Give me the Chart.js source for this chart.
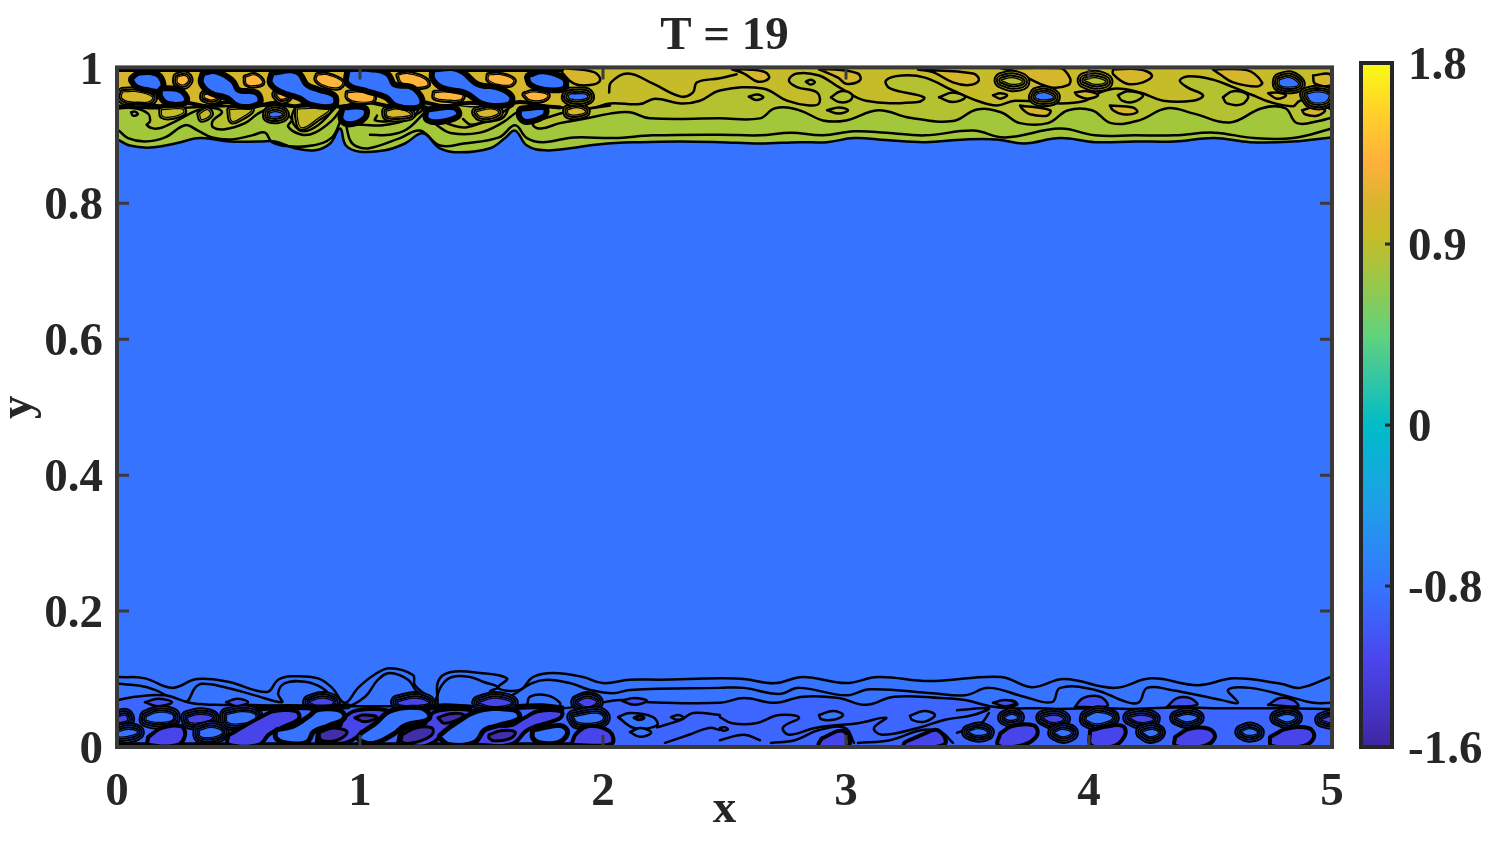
<!DOCTYPE html>
<html>
<head>
<meta charset="utf-8">
<title>T = 19</title>
<script src="https://cdn.jsdelivr.net/npm/chart.js@4"></script>
<style>
  html, body { margin: 0; background: #fff; }
  #wrap { position: relative; width: 1495px; height: 841px; overflow: hidden; }
  #field { position: absolute; left: 0; top: 0; }
  #cbar { position: absolute; left: 1340px; top: 0; }
</style>
</head>
<body>
<div id="wrap">
  <canvas id="field" width="1495" height="841"></canvas>
  <canvas id="cbar" width="155" height="841"></canvas>
</div>
<script>
// ticks
const titleText = 'T = 19';
const xTickValues = [0, 1, 2, 3, 4, 5];
const yTickValues = [0, 0.2, 0.4, 0.6, 0.8, 1];
const cbarTicks = [-1.6, -0.8, 0, 0.9, 1.8];

// colormap
const cbarStopValues = [-1.6, -1.4, -1.15, -0.8, -0.4, 0, 0.2, 0.45, 0.7, 0.95, 1.1, 1.3, 1.55, 1.8];
const cbarStopColors = ['#3F26A0', '#4535C8', '#4A47EE', '#3575FF', '#1F9FE8', '#00BCC8', '#2EC4A8', '#62D27C',
  '#97C84A', '#C8BC28', '#D8B42E', '#FFB03C', '#FFD02A', '#F9FB14'];

// contour lines, x,y pairs in axis units, top of the channel
const topOuter = [0,.894,.053,.885,.136,.882,.239,.888,.342,.896,.465,.891,.588,.891,.650,.891,.733,.881,.815,.878,.877,.888,.918,.910,.942,.885,1.0,.876,1.103,.878,1.185,.888,1.259,.903,1.329,.881,1.412,.875,1.535,.881,1.597,.896,1.638,.907,1.687,.885,1.761,.878,1.864,.881,1.988,.887,2.152,.890,2.317,.891,2.481,.890,2.646,.888,2.807,.890,2.922,.890,3.033,.896,3.165,.893,3.325,.890,3.490,.894,3.621,.894,3.733,.888,3.881,.896,4.025,.890,4.189,.891,4.350,.891,4.514,.896,4.663,.890,4.840,.891,5,.897];
const topSecond = [.008,.907,.045,.896,.115,.891,.198,.897,.280,.915,.333,.907,.391,.897,.473,.894,.556,.900,.609,.904,.638,.890,.704,.884,.802,.885,.885,.897,.930,.925,.959,.893,.984,.884,1.037,.881,1.165,.896,1.247,.907,1.329,.885,1.428,.888,1.572,.897,1.638,.915,1.687,.896,1.753,.890,1.881,.897,2.045,.896,2.206,.900,2.481,.901,2.646,.900,2.774,.904,2.905,.900,3.033,.906,3.165,.904,3.325,.900,3.523,.907,3.654,.897,3.881,.910,4.025,.900,4.189,.900,4.350,.900,4.514,.904,4.679,.896,4.840,.896,5,.910];
const topThird = [0,.940,.074,.940,.128,.932,.136,.921,.123,.915,.165,.910,.226,.918,.300,.932,.342,.938,.403,.940,.432,.934,.395,.922,.395,.912,.444,.909,.527,.918,.580,.932,.621,.938,.671,.934,.720,.924,.704,.913,.761,.901,.815,.904,.885,.922,.938,.943,.959,.929,.947,.919,1.041,.915,1.095,.915,1.177,.921,1.247,.934,1.272,.943,1.280,.929,1.317,.915,1.379,.903,1.494,.904,1.588,.919,1.646,.934,1.687,.937,1.724,.925,1.712,.915,1.745,.910,1.823,.918,1.918,.924,2.029,.932,2.111,.934,2.193,.925,2.481,.925,2.646,.925,2.708,.940,2.807,.937,2.905,.922,3.0,.922,3.132,.937,3.263,.926,3.440,.921,3.539,.938,3.638,.934,3.716,.918,3.831,.918,3.914,.937,4.012,.937,4.091,.918,4.206,.922,4.321,.940,4.432,.932,4.580,.919,4.712,.940,4.807,.940,4.856,.918,4.955,.922,5,.926];
const topFourth = [0,.944,.136,.940,.300,.941,.506,.944,.609,.944,.753,.943,.938,.951,1.165,.944,1.288,.951,1.453,.943,1.638,.947,1.761,.943,1.947,.940,2.029,.947,2.152,.946,2.214,.954,2.321,.947,2.399,.951,2.481,.966,2.658,.969,2.757,.951,2.848,.944,2.889,.947,2.881,.963,2.798,.971,2.765,.981,2.798,.991,2.889,.988,2.971,.971,3.082,.951,3.296,.949,3.321,.956,3.181,.969,3.165,.981,3.230,.988,3.325,.985,3.440,.966,3.539,.951,3.621,.944,3.695,.951,3.881,.947,3.984,.951,4.045,.963,4.115,.969,4.210,.963,4.305,.951,4.428,.951,4.469,.959,4.403,.971,4.374,.981,4.416,.987,4.510,.982,4.593,.971,4.675,.959,4.745,.949,4.840,.943,4.868,.951,4.942,.951,5,.937];
const topGoldRow = [0,.946,.9,.946,1.8,.946,1.84,.965,1.82,.999,.9,.999,0,.999];
const topEdge = [0,.997,.5,.997,1,.997,1.5,.997,1.83,.997];
const topBlackRow = [.008,.941,.082,.947,.177,.943,.280,.948,.374,.943,.457,.949,.568,.943,.650,.948,.732,.943,.815,.949,.918,.942,1.021,.949,1.132,.943,1.247,.949,1.350,.943,1.453,.948,1.576,.943,1.658,.949,1.761,.943,1.823,.941];
const topInnerLines = [
  [.737,.943,.720,.929,.728,.916,.765,.906,.827,.915,.897,.940],
  [1.041,.901,1.123,.901,1.193,.909,1.267,.934],
  [1.309,.926,1.379,.915,1.440,.912,1.547,.926,1.630,.944],
  [1.424,.924,1.453,.916,1.506,.919,1.588,.926,1.617,.946],
  [1.070,.929,1.062,.922,1.123,.921,1.218,.926,1.247,.944],
  [1.761,.925,1.844,.934,1.947,.940,2.029,.944],
  [2.025,.963,2.033,.978,2.103,.991,2.206,.976,2.321,.957,2.370,.963,2.387,.978,2.481,.984,2.55,.990]
];
const topGoldLobes = [
  [4.099,.997,4.210,.997,4.259,.988,4.222,.978,4.156,.976,4.099,.990],
  [3.634,.999,3.881,.999,3.922,.984,3.914,.974,3.840,.971,3.745,.985,3.704,.993],
  [4.510,.997,4.650,.996,4.712,.978,4.691,.972,4.593,.978,4.539,.990],
  [2.531,.997,2.597,.997,2.667,.993,2.683,.984,2.638,.979,2.580,.991],
  [2.889,.997,2.955,.997,3.049,.991,3.058,.981,3.0,.976,2.967,.985],
  [3.296,.997,3.523,.991,3.547,.981,3.506,.974,3.440,.978,3.358,.993],
  [1.831,.999,1.963,.993,1.988,.981,1.947,.974,1.881,.976,1.831,.993],
  [4.922,.988,4.992,.990,4.996,.974,4.930,.976],
  [4.877,.937,4.922,.941,4.971,.937,4.938,.929,4.889,.931],
  [3.716,.944,3.840,.937,3.827,.929,3.757,.931,3.728,.938],
  [4.086,.944,4.181,.941,4.198,.934,4.140,.931,4.099,.937],
  [4.737,.962,4.774,.963,4.811,.959,4.774,.954],
  [3.942,.963,3.992,.965,4.037,.959,3.992,.954,3.951,.959],
  [3.605,.959,3.634,.962,3.663,.959,3.634,.954]
];
const topPaleOvals = [
  [2.938,.956,2.979,.965,3.025,.960,3.016,.951,2.971,.949],
  [3.383,.956,3.440,.963,3.490,.956,3.440,.949],
  [4.119,.959,4.160,.965,4.222,.959,4.181,.949,4.136,.951],
  [4.551,.956,4.593,.965,4.654,.959,4.630,.946,4.568,.947],
  [2.922,.937,2.971,.941,3.008,.937,2.971,.932],
  [2.60,.957,2.635,.960,2.66,.956,2.63,.952],
  [2.835,.979,2.856,.982,2.872,.978,2.852,.975],
  [.058,.934,.074,.935,.086,.931,.066,.929]
];
const topOliveBlobs = [
  [.745,.938,.868,.938,.827,.926,.761,.912,.745,.926],
  [.185,.937,.267,.938,.272,.934,.226,.928,.189,.929],
  [.465,.937,.551,.938,.498,.924,.473,.922],
  [.342,.931,.370,.937,.383,.931,.350,.924]
];
const topGoldBlobs = [
  [1.111,.935,1.156,.938,1.206,.931,1.165,.928,1.115,.929],
  [1.481,.934,1.535,.938,1.568,.934,1.535,.928,1.494,.929],
  [1.856,.937,1.893,.940,1.926,.935,1.893,.931,1.860,.932],
  [.025,.963,.086,.963,.144,.956,.128,.950,.045,.951,.021,.956]
];
const topOrangeSmall = [
  [.251,.985,.280,.987,.292,.981,.272,.975,.251,.978],
  [.362,.959,.391,.962,.416,.959,.395,.953,.362,.956],
  [.658,.960,.679,.960,.700,.957,.675,.954]
];
const topOrangeLarge = [
  [.531,.985,.568,.988,.597,.978,.568,.974,.535,.976],
  [.827,.988,.868,.988,.926,.978,.909,.971,.856,.974,.823,.982],
  [.951,.962,1.008,.963,1.053,.959,1.049,.951,.979,.951,.951,.956],
  [1.160,.988,1.198,.990,1.267,.982,1.276,.974,1.218,.972,1.173,.978],
  [1.309,.962,1.362,.963,1.420,.959,1.412,.953,1.350,.953,1.309,.956],
  [1.531,.988,1.584,.988,1.630,.981,1.617,.975,1.568,.976,1.531,.982],
  [1.679,.960,1.712,.963,1.770,.959,1.753,.953,1.700,.953]
];
const topBlueHoles = [
  [.070,.982,.095,.988,.156,.987,.177,.978,.173,.969,.123,.971,.086,.975],
  [.189,.965,.251,.963,.276,.954,.267,.950,.210,.951,.189,.959],
  [.362,.988,.403,.990,.465,.978,.494,.963,.568,.959,.576,.950,.506,.947,.457,.959,.391,.966,.358,.978],
  [.646,.988,.733,.990,.774,.971,.827,.963,.885,.956,.885,.947,.802,.949,.753,.959,.679,.968,.642,.978],
  [.959,.993,1.041,.993,1.103,.988,1.136,.971,1.214,.966,1.243,.947,1.156,.947,1.111,.960,1.033,.969,.959,.978],
  [1.309,.993,1.399,.993,1.481,.971,1.564,.966,1.613,.956,1.605,.949,1.514,.950,1.440,.966,1.342,.974,1.309,.985],
  [1.700,.985,1.753,.990,1.831,.981,1.831,.972,1.753,.972,1.708,.978],
  [.938,.937,1.012,.937,1.012,.929,.967,.921,.934,.924],
  [1.284,.934,1.383,.937,1.395,.931,1.329,.924,1.284,.926],
  [1.667,.935,1.753,.937,1.749,.931,1.687,.924,1.667,.929]
];
const topBlueRinged = [
  [.630,.932,.650,.934,.679,.931,.658,.928,.630,.929],
  [1.864,.960,1.926,.960,1.934,.956,1.893,.953,1.860,.956],
  [3.786,.960,3.819,.962,3.852,.956,3.811,.953,3.782,.956],
  [4.786,.981,4.827,.984,4.860,.975,4.819,.972,4.786,.975],
  [4.897,.960,4.938,.963,4.984,.959,4.971,.950,4.918,.950]
];
const topRingCentres = [
  [3.642,.981,3.683,.984,3.724,.979,3.683,.976],
  [3.984,.981,4.025,.984,4.066,.979,4.025,.976]
];

// contour lines, bottom of the channel
const botOuter = [.008,.103,.115,.101,.226,.087,.329,.100,.457,.096,.617,.081,.663,.099,.720,.104,.827,.101,.885,.087,.938,.065,.992,.087,1.062,.107,1.123,.116,1.218,.106,1.226,.091,1.288,.072,1.317,.062,1.321,.096,1.370,.110,1.494,.109,1.605,.101,1.568,.087,1.658,.084,1.712,.103,1.794,.109,1.918,.103,2.0,.094,2.111,.099,2.235,.099,2.481,.101,2.580,.100,2.708,.094,2.823,.103,3.0,.094,3.132,.103,3.342,.097,3.638,.103,3.765,.088,3.897,.100,4.107,.087,4.255,.101,4.449,.091,4.597,.101,4.790,.093,4.868,.087,5,.104];
const botSecond = [.008,.093,.095,.090,.156,.084,.280,.066,.321,.087,.350,.093,.444,.088,.568,.076,.679,.066,.663,.079,.691,.094,.774,.096,.844,.087,.897,.069,.938,.059,1.021,.074,1.074,.099,1.123,.109,1.198,.099,1.235,.081,1.276,.072,1.296,.059,1.337,.091,1.379,.103,1.453,.103,1.506,.096,1.568,.088,1.535,.081,1.597,.072,1.708,.094,1.770,.099,1.864,.094,1.947,.084,2.041,.079,2.111,.084,2.481,.087,2.580,.087,2.724,.078,2.807,.087,3.0,.076,3.099,.085,3.358,.079,3.490,.076,3.588,.087,3.733,.074,3.848,.066,3.881,.087,4.025,.084,4.156,.066,4.206,.066,4.239,.087,4.337,.084,4.547,.069,4.613,.065,4.572,.084,4.663,.087,4.823,.074,4.922,.065,5,.065];
const botThird = [0,.069,.074,.074,.198,.076,.300,.065,.403,.062,.506,.062,.753,.060,.938,.060,1.165,.060,1.329,.060,1.494,.060,1.658,.060,1.823,.057,1.947,.062,2.070,.069,2.193,.066,2.481,.065,2.580,.072,2.708,.065,2.823,.074,2.971,.072,3.082,.062,3.198,.074,3.391,.072,3.490,.069,3.593,.060,3.675,.057,3.798,.057,3.860,.056,4.045,.057,4.169,.056,4.354,.058,4.580,.057,4.827,.057,5,.056];
const botBlackRows = [
  [.58,.057,.7,.059,.85,.058,.95,.060],
  [1.27,.058,1.35,.060,1.45,.058],
  [1.65,.059,1.75,.060,1.83,.057]
];
const botEdge = [0,.004,.5,.004,1,.004,1.5,.004,2,.004];
const botThinLines = [
  [2.481,.044,2.531,.035,2.630,.035,2.724,.047,2.807,.043,2.741,.029,2.765,.018,2.872,.028,2.955,.032,3.049,.035,3.165,.043,3.115,.028,3.148,.018,3.296,.028,3.407,.040,3.523,.047,3.588,.057,3.457,.054],
  [2.481,.010,2.580,.018,2.646,.010],
  [2.691,.006,2.790,.010,2.889,.025,2.996,.028,3.033,.006],
  [3.049,.006,3.181,.010,3.313,.025,3.391,.022,3.440,.006],
  [3.457,.021,3.556,.035,3.588,.050],
  [2.222,.029,2.321,.040,2.370,.050,2.481,.047],
  [2.255,.006,2.354,.018,2.436,.028,2.481,.025]
];
const botPaleOvals = [
  [2.889,.047,2.947,.053,2.988,.047,2.947,.040,2.897,.041],
  [3.263,.046,3.321,.053,3.366,.047,3.321,.037,3.272,.040],
  [2.062,.044,2.111,.050,2.206,.044,2.222,.032,2.128,.028],
  [2.111,.022,2.156,.028,2.198,.021,2.152,.015],
  [2.280,.044,2.309,.047,2.333,.043,2.305,.040],
  [2.481,.028,2.502,.029,2.514,.026,2.494,.024],
  [1.687,.060,1.700,.074,1.770,.076,1.823,.065,1.815,.059]
];
const botHumps = [
  [3.634,.068,3.687,.068,3.704,.062,3.634,.059],
  [3.942,.059,3.975,.072,4.045,.074,4.078,.062,4.058,.059],
  [4.321,.059,4.362,.072,4.416,.072,4.444,.062],
  [4.737,.062,4.786,.072,4.840,.069,4.860,.060],
  [3.605,.065,3.654,.069,3.700,.065,3.654,.060],
  [.115,.066,.169,.071,.226,.066,.169,.060],
  [.449,.066,.494,.071,.539,.066,.494,.060],
  [2.078,.068,2.128,.072,2.181,.068,2.128,.062]
];
const botHumpsRinged = [
  [.794,.066,.844,.071,.889,.066,.844,.060],
  [1.156,.066,1.230,.071,1.280,.065,1.230,.062,1.165,.063],
  [1.490,.065,1.556,.071,1.621,.065,1.556,.060],
  [1.897,.066,1.934,.071,1.971,.066,1.934,.060]
];
const botPurple = [
  [.136,.013,.185,.025,.259,.028,.272,.018,.247,.006,.136,.006],
  [.465,.015,.527,.028,.609,.044,.650,.050,.733,.050,.741,.043,.679,.032,.621,.021,.580,.006,.465,.006],
  [.831,.009,.938,.009,1.004,.022,1.070,.035,1.103,.043,1.111,.051,.988,.051,.938,.040,.922,.029,.840,.021],
  [1.165,.006,1.280,.006,1.362,.029,1.461,.044,1.461,.051,1.329,.051,1.288,.043,1.272,.032,1.181,.022],
  [1.490,.006,1.621,.007,1.687,.028,1.815,.044,1.823,.050,1.737,.050,1.679,.040,1.621,.029,1.514,.028,1.481,.018],
  [1.881,.006,2.029,.007,2.021,.021,1.947,.028,1.897,.018],
  [3.642,.018,3.687,.028,3.770,.029,3.778,.018,3.728,.006,3.634,.004],
  [4.012,.022,4.086,.028,4.136,.028,4.140,.018,4.099,.004,4.016,.004],
  [4.362,.013,4.416,.024,4.490,.024,4.510,.015,4.469,.004,4.362,.004],
  [4.753,.013,4.815,.024,4.901,.025,4.918,.015,4.877,.004,4.757,.004],
  [2.905,.010,2.984,.021,3.004,.004,2.897,.003],
  [3.313,.015,3.374,.022,3.399,.006,3.247,.003]
];
const botPurpleRinged = [
  [3.811,.043,3.860,.046,3.893,.041,3.848,.037],
  [4.169,.043,4.218,.046,4.263,.041,4.210,.037],
  [.292,.043,.342,.047,.391,.043,.350,.037,.300,.037],
  [0,.043,.033,.046,.041,.040,0,.037],
  [4.959,.040,4.996,.044,4.996,.037]
];
const botDark = [
  [.979,.043,1.012,.047,1.070,.044,1.021,.037],
  [.831,.021,.889,.028,.947,.022,.905,.010,.840,.010],
  [1.173,.018,1.230,.028,1.296,.028,1.296,.018,1.230,.007,1.173,.007],
  [1.321,.043,1.370,.049,1.428,.047,1.403,.040,1.346,.035],
  [1.531,.018,1.580,.024,1.638,.022,1.621,.013,1.556,.009,1.531,.013],
  [2.128,.043,2.152,.046,2.169,.043,2.148,.040]
];
const botBlueThick = [
  [.663,.022,.733,.028,.802,.044,.827,.051,.909,.051,.926,.044,.868,.035,.802,.025,.774,.010,.691,.010,.663,.015],
  [1.012,.018,1.070,.032,1.132,.050,1.247,.054,1.276,.044,1.181,.035,1.132,.022,1.053,.009,1.004,.013],
  [1.337,.015,1.383,.028,1.494,.050,1.630,.051,1.646,.044,1.564,.035,1.506,.028,1.465,.010,1.370,.007],
  [1.720,.022,1.823,.028,1.844,.021,1.811,.010,1.741,.010,1.720,.015]
];
const botBlueRinged = [
  [.123,.044,.169,.050,.226,.047,.226,.040,.169,.037,.123,.040],
  [.008,.022,.045,.025,.082,.022,.062,.018,.008,.016],
  [.342,.024,.391,.028,.432,.022,.403,.016,.346,.016],
  [.453,.047,.519,.051,.568,.047,.560,.040,.498,.035,.457,.037],
  [1.881,.044,1.975,.049,2.0,.043,1.975,.037,1.897,.037],
  [3.654,.043,3.683,.047,3.704,.043,3.675,.040],
  [3.860,.021,3.889,.025,3.926,.021,3.893,.016],
  [3.992,.044,4.037,.050,4.095,.043,4.037,.035,3.992,.040],
  [4.222,.022,4.259,.025,4.284,.021,4.251,.016],
  [4.362,.043,4.403,.047,4.444,.043,4.403,.038],
  [4.774,.043,4.815,.047,4.848,.043,4.815,.038],
  [4.630,.022,4.663,.026,4.691,.021,4.654,.018],
  [3.506,.022,3.547,.026,3.580,.021,3.539,.018]
];

const BLUE = '#3673FF', GREEN = '#A2C73B', PALE = '#B4C232', OLIVE = '#C6BC2A', GOLD = '#D6B72C',
  ORANGE = '#FFB43C', LEVEL1 = '#3C66FF', LEVEL2 = '#4152F2', PURPLE = '#4745EA', DARK = '#402FA8',
  INK = '#000000', AXIS = '#262626';
const FONT = '"Liberation Serif", "Times New Roman", serif';
const LINE = 2.5;

const datasets = [];

function pts(a) {
  const out = [];
  for (let i = 0; i < a.length; i += 2) out.push({x: a[i], y: a[i + 1]});
  return out;
}
function addLine(a, color, width) {
  datasets.push({data: pts(a), borderColor: color, borderWidth: width, fill: false});
}
function addFill(a, color, lineWidth) {
  datasets.push({data: pts(a), fill: 'shape', backgroundColor: color, borderColor: INK, borderWidth: lineWidth});
}
function loop(a) { return a.concat(a.slice(0, 2)); }
// band closes a contour against the wall, just outside the clipped plot area
function band(a, wall) {
  const n = a.length;
  return [-.02, a[1]].concat(a, [5.02, a[n - 1], 5.02, wall, -.02, wall]);
}
// stacked strokes of one outline give the tight parallel contours around an eddy
function ringed(a, fill, between, rings, gap) {
  const c = loop(a);
  for (let i = rings; i >= 1; i--) {
    addLine(c, INK, 2 * i * gap + 2.5);
    addLine(c, between, 2 * i * gap - 1.5);
  }
  addLine(c, INK, 2.5);
  addFill(c, fill, 0);
}
function thick(a, fill, width) {
  const c = loop(a);
  addLine(c, INK, width);
  addFill(c, fill, 0);
}

addFill([0, 0, 5, 0, 5, 1, 0, 1, 0, 0], BLUE, 0);

// top layers
addFill(band(topOuter, 1.02), GREEN, LINE);
addLine(topSecond, INK, LINE);
addFill(band(topThird, 1.02), PALE, LINE);
addFill(band(topFourth, 1.02), OLIVE, LINE);
addFill(topGoldRow, GOLD, 0);
topInnerLines.forEach(a => addLine(a, INK, LINE));
topGoldLobes.forEach(a => addFill(loop(a), GOLD, LINE));
topPaleOvals.forEach(a => addFill(loop(a), PALE, LINE));
topOliveBlobs.forEach(a => ringed(a, OLIVE, PALE, 1, 2.5));
topGoldBlobs.forEach(a => ringed(a, GOLD, OLIVE, 2, 2.3));
topRingCentres.forEach(a => ringed(a, PALE, OLIVE, 3, 2.4));
addLine(topBlackRow, INK, 4);
addLine(topEdge, INK, 5);
topOrangeSmall.forEach(a => ringed(a, ORANGE, GOLD, 2, 2.2));
topOrangeLarge.forEach(a => ringed(a, ORANGE, GOLD, 1, 2.2));
topBlueRinged.forEach(a => ringed(a, BLUE, OLIVE, 3, 2.2));
topBlueHoles.forEach(a => thick(a, BLUE, 12));

// bottom layers
addLine(botOuter, INK, LINE);
addLine(botSecond, INK, LINE);
addFill(band(botThird, -.02), LEVEL1, LINE);
botThinLines.forEach(a => addLine(a, INK, LINE));
botPaleOvals.forEach(a => addFill(loop(a), BLUE, LINE));
botHumps.forEach(a => addFill(loop(a), LEVEL2, LINE));
botHumpsRinged.forEach(a => ringed(a, PURPLE, LEVEL1, 3, 2.2));
botPurpleRinged.forEach(a => ringed(a, PURPLE, LEVEL1, 3, 2.2));
botBlueRinged.forEach(a => ringed(a, BLUE, LEVEL1, 3, 2.2));
botBlackRows.forEach(a => addLine(a, INK, 6));
addLine(botEdge, INK, 4);
botPurple.forEach(a => thick(a, PURPLE, 8));
botDark.forEach(a => addFill(loop(a), DARK, 3));
botBlueThick.forEach(a => thick(a, BLUE, 10));

datasets.forEach((d, i) => {
  d.order = datasets.length - i;   // first pushed is painted first
  d.clip = 0;
  d.showLine = true;
  d.pointRadius = 0;
  d.tension = 0.4;
  d.borderJoinStyle = 'round';
  d.borderCapStyle = 'round';
});
datasets[0].tension = 0;

// matlab style frame with ticks pointing into the box
const boxTicks = {
  id: 'boxTicks',
  beforeDraw(chart, args, opts) {
    // Times digits sit high on the middle baseline, push the value labels down
    for (const item of chart.scales.y.getLabelItems()) {
      if (!item.shifted) { item.textOffset += opts.labelShift; item.shifted = true; }
    }
  },
  afterDatasetsDraw(chart, args, opts) {
    const {ctx, chartArea: a, scales} = chart;
    ctx.save();
    ctx.strokeStyle = opts.color;
    ctx.lineWidth = 3;
    if (scales.x.options.display) {
      for (const t of scales.x.ticks) {
        const px = scales.x.getPixelForValue(t.value);
        ctx.beginPath();
        ctx.moveTo(px, a.top); ctx.lineTo(px, a.top + opts.length);
        ctx.moveTo(px, a.bottom); ctx.lineTo(px, a.bottom - opts.length);
        ctx.stroke();
      }
    }
    for (const t of scales.y.ticks) {
      const py = scales.y.getPixelForValue(t.value);
      ctx.beginPath();
      if (opts.bothSides) { ctx.moveTo(a.left, py); ctx.lineTo(a.left + opts.length, py); }
      ctx.moveTo(a.right, py); ctx.lineTo(a.right - opts.length, py);
      ctx.stroke();
    }
    ctx.lineWidth = opts.frame;
    ctx.strokeRect(a.left, a.top, a.right - a.left, a.bottom - a.top);
    ctx.restore();
  }
};

new Chart(document.getElementById('field'), {
  type: 'scatter',
  data: {datasets: datasets},
  plugins: [boxTicks],
  options: {
    responsive: false,
    animation: false,
    events: [],
    layout: {autoPadding: false, padding: {right: 163}},
    plugins: {
      legend: {display: false},
      tooltip: {enabled: false},
      title: {
        display: true, text: titleText, fullSize: false, color: AXIS,
        font: {family: FONT, size: 47, weight: 'bold', lineHeight: 1.2},
        padding: {top: 9, bottom: 2}
      },
      boxTicks: {color: '#3a3a3a', length: 12, frame: 4, bothSides: true, labelShift: 4}
    },
    scales: {
      x: {
        type: 'linear', min: 0, max: 5,
        afterBuildTicks: s => { s.ticks = xTickValues.map(v => ({value: v})); },
        afterFit: s => { s.height = 94; },
        grid: {display: false, drawTicks: false}, border: {display: false},
        ticks: {color: AXIS, padding: 18, maxRotation: 0, font: {family: FONT, size: 47, weight: 'bold'}},
        title: {display: true, text: 'x', color: AXIS, padding: {top: 0, bottom: 8},
          font: {family: FONT, size: 47, weight: 'bold', lineHeight: 1}}
      },
      y: {
        type: 'linear', min: 0, max: 1,
        afterBuildTicks: s => { s.ticks = yTickValues.map(v => ({value: v})); },
        afterFit: s => { s.width = 117; },
        grid: {display: false, drawTicks: false}, border: {display: false},
        ticks: {color: AXIS, padding: 14, callback: v => String(v), font: {family: FONT, size: 47, weight: 'bold'}},
        title: {display: true, text: 'y', color: AXIS, padding: {top: 0, bottom: 0},
          font: {family: FONT, size: 47, weight: 'bold', lineHeight: .8}}
      }
    }
  }
});

// colorbar: one floating bar over the value axis, painted with the colormap
function cbarGradient(c) {
  const {chart} = c;
  if (!chart.chartArea) return cbarStopColors[0];
  const y = chart.scales.y;
  const top = y.getPixelForValue(y.max), bottom = y.getPixelForValue(y.min);
  const g = chart.ctx.createLinearGradient(0, bottom, 0, top);
  cbarStopValues.forEach((v, i) => g.addColorStop((v - y.min) / (y.max - y.min), cbarStopColors[i]));
  return g;
}

new Chart(document.getElementById('cbar'), {
  type: 'bar',
  data: {
    labels: ['c'],
    datasets: [{
      data: [[cbarTicks[0], cbarTicks[cbarTicks.length - 1]]],
      backgroundColor: cbarGradient,
      barPercentage: 1, categoryPercentage: 1, borderSkipped: false
    }]
  },
  plugins: [boxTicks],
  options: {
    responsive: false,
    animation: false,
    events: [],
    layout: {autoPadding: false, padding: {left: 21, top: 63, bottom: 94}},
    plugins: {
      legend: {display: false},
      tooltip: {enabled: false},
      boxTicks: {color: '#262626', length: 7, frame: 4, bothSides: false, labelShift: 4}
    },
    scales: {
      x: {display: false},
      y: {
        type: 'linear', position: 'right', min: cbarTicks[0], max: cbarTicks[cbarTicks.length - 1],
        afterBuildTicks: s => { s.ticks = cbarTicks.map(v => ({value: v})); },
        afterFit: s => { s.width = 103; },
        grid: {display: false, drawTicks: false}, border: {display: false},
        ticks: {color: AXIS, padding: 16, callback: v => String(v), font: {family: FONT, size: 47, weight: 'bold'}}
      }
    }
  }
});
</script>
</body>
</html>
